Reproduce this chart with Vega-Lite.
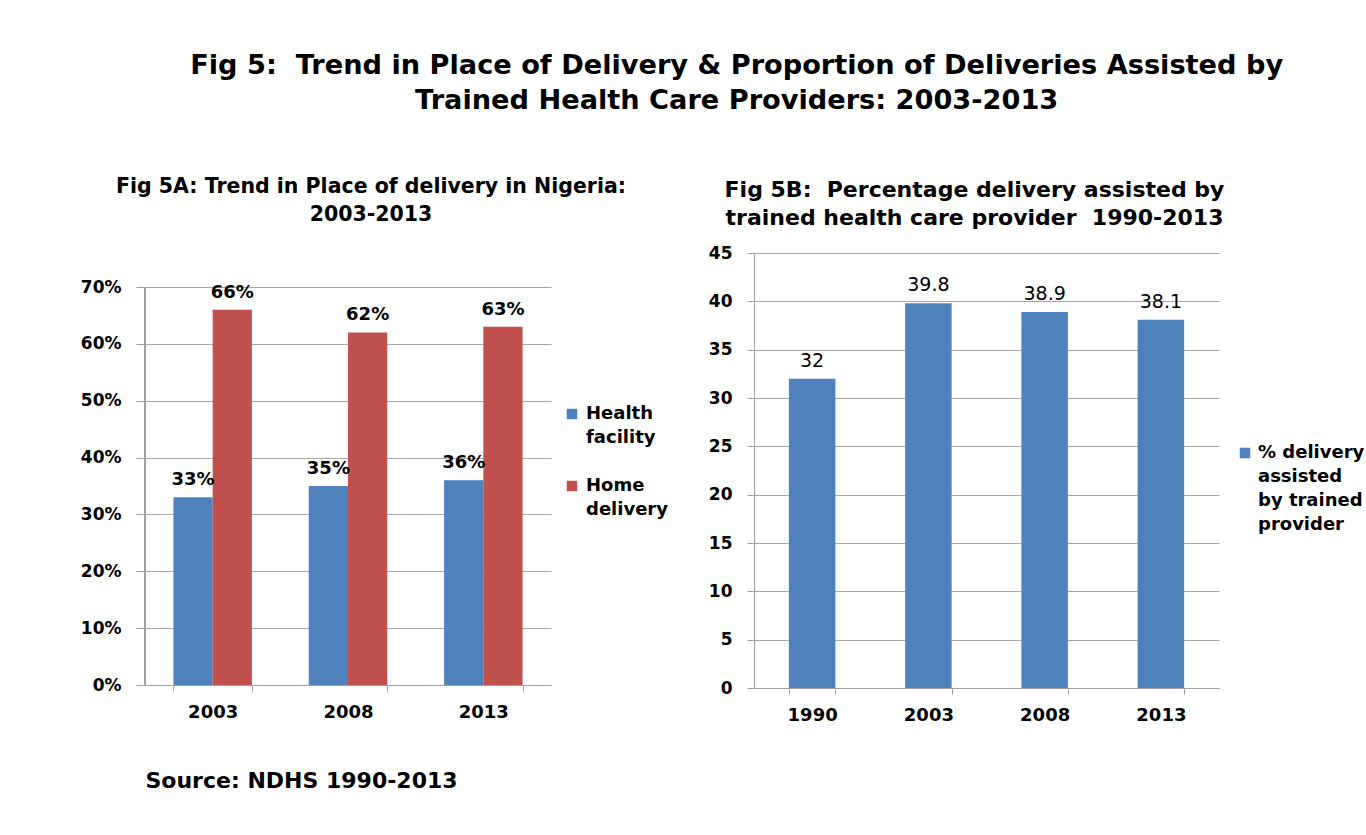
{
  "$schema": "https://vega.github.io/schema/vega-lite/v6.json",
  "background": "white",
  "padding": {"left": 80, "top": 52, "right": 0, "bottom": 0},
  "title": {
    "text": ["Fig 5:\u00a0 Trend in Place of Delivery & Proportion of Deliveries Assisted by", "Trained Health Care Providers: 2003-2013"],
    "fontSize": 27.2, "lineHeight": 35, "anchor": "middle", "offset": 61, "dx": 14
  },
  "datasets": {
    "a": [
      {"year": "2003", "place": "Health facility", "share": 0.33},
      {"year": "2003", "place": "Home delivery", "share": 0.66},
      {"year": "2008", "place": "Health facility", "share": 0.35},
      {"year": "2008", "place": "Home delivery", "share": 0.62},
      {"year": "2013", "place": "Health facility", "share": 0.36},
      {"year": "2013", "place": "Home delivery", "share": 0.63}
    ],
    "b": [
      {"year": "1990", "series": "% delivery assisted by trained provider", "pct": 32},
      {"year": "2003", "series": "% delivery assisted by trained provider", "pct": 39.8},
      {"year": "2008", "series": "% delivery assisted by trained provider", "pct": 38.9},
      {"year": "2013", "series": "% delivery assisted by trained provider", "pct": 38.1}
    ]
  },
  "spacing": 40,
  "resolve": {"scale": {"color": "independent"}},
  "hconcat": [
    {
      "width": 406,
      "height": 432,
      "title": {"text": ["Fig 5A: Trend in Place of delivery in Nigeria:", "2003-2013"], "fontSize": 20.5, "lineHeight": 28, "offset": 28, "frame": "group", "dx": 23},
      "data": {"name": "a"},
      "encoding": {
        "x": {
          "field": "year", "type": "nominal",
          "scale": {"paddingInner": 0.42, "paddingOuter": 0.21},
          "axis": {
            "title": "Source: NDHS 1990-2013", "titleFont": "DejaVu Sans", "titleFontSize": 22, "titleFontWeight": "bold",
            "titleAnchor": "start", "titleAlign": "left", "titlePadding": 49, "titleColor": "black",
            "labelAngle": 0, "labelFontSize": 18, "labelPadding": 12, "tickBand": "extent", "tickSize": 6, "grid": false
          }
        },
        "y": {
          "field": "share", "type": "quantitative",
          "scale": {"domain": [0, 0.7598], "nice": false},
          "axis": {"title": null, "format": ".0%", "values": [0, 0.1, 0.2, 0.3, 0.4, 0.5, 0.6, 0.7], "tickSize": 9, "labelPadding": 15, "domain": false}
        }
      },
      "layer": [
        {
          "mark": {"type": "rule", "color": "#A0A0A0"},
          "encoding": {
            "x": {"datum": "2003", "type": "nominal", "bandPosition": -0.3621},
            "y": {"datum": 0},
            "y2": {"datum": 0.7}
          }
        },
        {
          "mark": {"type": "bar"},
          "encoding": {
            "xOffset": {"field": "place", "type": "nominal", "sort": ["Health facility", "Home delivery"]},
            "color": {
              "field": "place", "type": "nominal",
              "scale": {"domain": ["Health facility", "Home delivery"], "range": ["#4F81BD", "#C0504D"]},
              "legend": {
                "title": null, "orient": "none", "legendX": 418, "legendY": 152,
                "labelExpr": "datum.label == 'Health facility' ? ['Health', 'facility'] : ['Home', 'delivery']",
                "rowPadding": 30, "labelOffset": 5,
                "encode": {"labels": {"update": {"lineHeight": {"value": 24}}}}
              }
            }
          }
        },
        {
          "mark": {"type": "text", "baseline": "bottom", "dy": -8, "fontWeight": "bold", "fontSize": 18, "color": "black"},
          "encoding": {
            "xOffset": {"field": "place", "type": "nominal", "sort": ["Health facility", "Home delivery"]},
            "text": {"field": "share", "type": "quantitative", "format": ".0%"}
          }
        }
      ]
    },
    {
      "width": 465,
      "height": 435,
      "title": {"text": ["Fig 5B:\u00a0 Percentage delivery assisted by", "trained health care provider\u00a0 1990-2013"], "fontSize": 22, "lineHeight": 28, "offset": 14, "frame": "group", "dx": -12},
      "data": {"name": "b"},
      "encoding": {
        "x": {
          "field": "year", "type": "nominal",
          "scale": {"paddingInner": 0.6, "paddingOuter": 0.3},
          "axis": {"title": null, "labelAngle": 0, "labelFontSize": 18, "labelPadding": 12, "tickBand": "extent", "tickSize": 6, "grid": false}
        },
        "y": {
          "field": "pct", "type": "quantitative",
          "scale": {"domain": [0, 45], "nice": false},
          "axis": {"title": null, "values": [0, 5, 10, 15, 20, 25, 30, 35, 40, 45], "tickSize": 7, "labelPadding": 15}
        }
      },
      "layer": [
        {
          "mark": {"type": "bar"},
          "encoding": {
            "color": {
              "field": "series", "type": "nominal",
              "scale": {"range": ["#4F81BD"]},
              "legend": {
                "title": null, "orient": "none", "legendX": 482, "legendY": 191,
                "labelExpr": "['% delivery', 'assisted', 'by trained', 'provider']",
                "labelOffset": 4,
                "encode": {"labels": {"update": {"lineHeight": {"value": 24}}}}
              }
            }
          }
        },
        {
          "mark": {"type": "text", "baseline": "bottom", "dy": -8, "fontSize": 19, "color": "black"},
          "encoding": {"text": {"field": "pct", "type": "quantitative"}}
        }
      ]
    }
  ],
  "config": {
    "font": "DejaVu Sans",
    "view": {"stroke": null},
    "title": {"font": "DejaVu Sans", "fontWeight": "bold", "color": "black"},
    "axis": {
      "labelFont": "DejaVu Sans", "labelFontWeight": "bold", "labelFontSize": 17, "labelColor": "black",
      "domainColor": "#A0A0A0", "tickColor": "#A0A0A0", "gridColor": "#A6A6A6"
    },
    "legend": {
      "labelFont": "DejaVu Sans", "labelFontWeight": "bold", "labelFontSize": 18, "labelColor": "black",
      "symbolType": "square", "symbolSize": 110, "symbolStrokeWidth": 0, "labelLimit": 300
    }
  }
}
